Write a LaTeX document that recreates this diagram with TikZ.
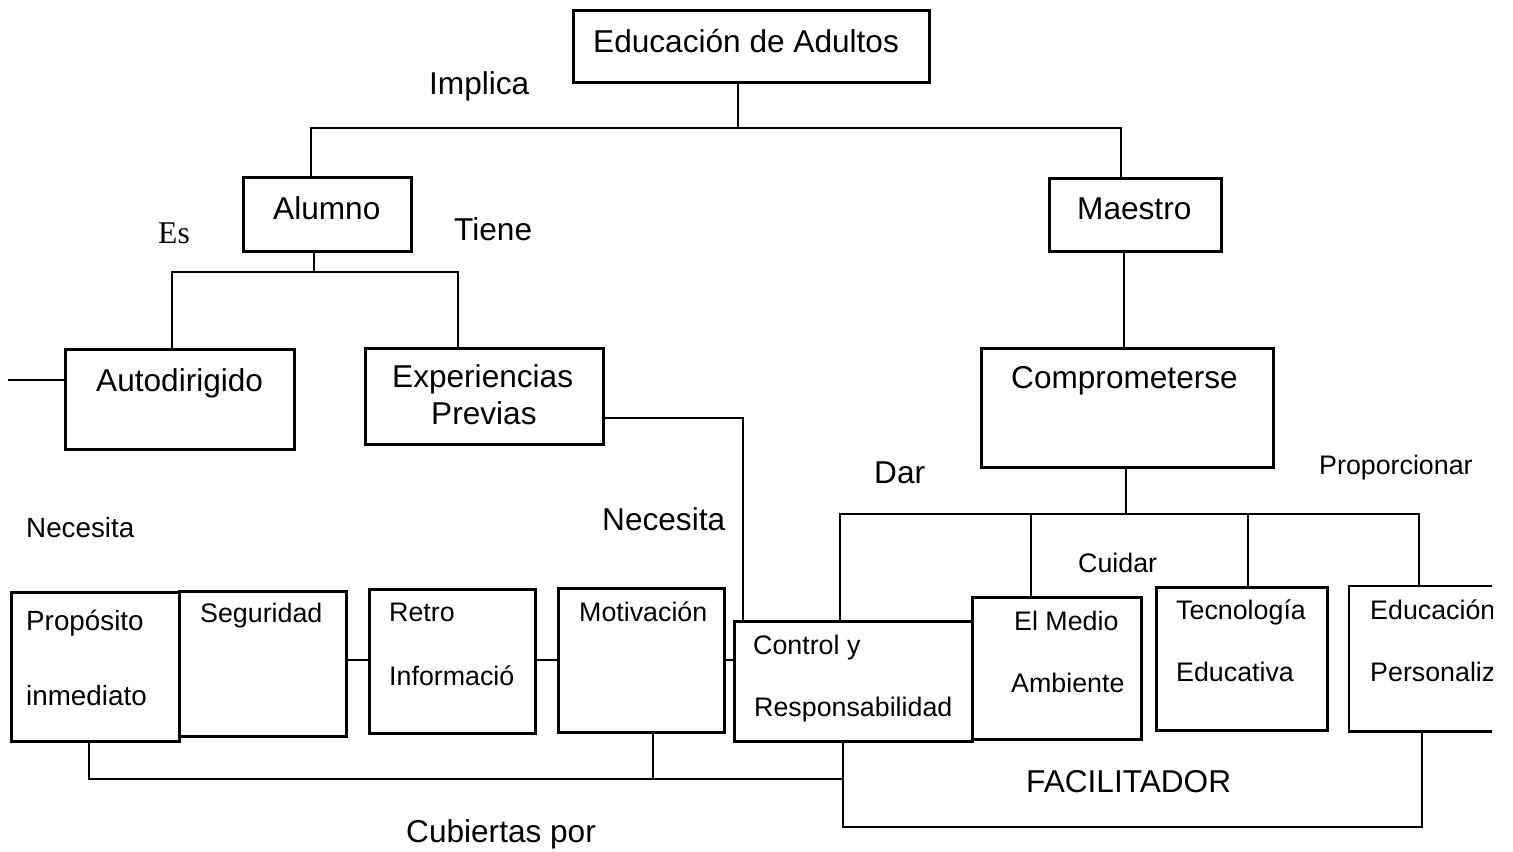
\documentclass[tikz,border=0pt]{standalone}
\usepackage{fontspec}
\setmainfont{Liberation Sans}
\newfontfamily\serifes{Liberation Serif}
\newcommand\bx[5]{\node[box,minimum width=#4*0.5pt,minimum height=#5*0.5pt] (#1) at (#2,#3) {};}
\begin{document}
\begin{tikzpicture}[x=0.5pt,y=-0.5pt,line width=1.2pt,
  box/.style={draw,rectangle,inner sep=0pt,anchor=north west,line width=1.3pt},
  big/.style={inner sep=0pt,anchor=base west,font=\fontsize{15.8}{19}\selectfont},
  mid/.style={inner sep=0pt,anchor=base west,font=\fontsize{13.9}{17}\selectfont},
  small/.style={inner sep=0pt,anchor=base west,font=\fontsize{13.4}{16}\selectfont}]
\useasboundingbox (0,0) rectangle (1513,851);
\begin{scope}
\clip (0,0) rectangle (1492,851);
% boxes
\bx{top}{572}{9}{356}{72}
\bx{alumno}{242}{176}{168}{74}
\bx{maestro}{1048}{177}{172}{73}
\bx{auto}{64}{348}{229}{100}
\bx{exp}{364}{347}{238}{96}
\bx{comp}{980}{347}{292}{119}
\bx{prop}{10}{591}{168}{149}
\bx{seg}{178}{590}{167}{145}
\bx{retro}{368}{588}{166}{144}
\bx{mot}{557}{587}{166}{144}
\bx{ctrl}{733}{620}{238}{120}
\bx{medio}{971}{596}{169}{142}
\bx{tec}{1155}{586}{171}{143}
\node[box,draw=none,minimum width=200*0.5pt,minimum height=143*0.5pt] (edu) at (1349,586) {};
\coordinate (cut) at (1492,0);
\draw[line width=1.3pt] (edu.north west -| cut) -- (edu.north west) -- (edu.south west) -- (edu.south west -| cut);
% texts
\node[big] (tTop) at (592,52) {Educación de Adultos};
\node[big] (lImp) at (428,94) {Implica};
\node[big] (tAl) at (272,219) {Alumno};
\node[inner sep=0pt,anchor=base west,font=\serifes\fontsize{15.8}{19}\selectfont] (lEs) at (157,243) {Es};
\node[big] (lTiene) at (453,240) {Tiene};
\node[big] (tMa) at (1076,219) {Maestro};
\node[big] (tAuto) at (95,391) {Autodirigido};
\node[big] (tExp1) at (391,387) {Experiencias};
\node[big] (tExp2) at (430,424) {Previas};
\node[big] (tComp) at (1010,388) {Comprometerse};
\node[big] (lDar) at (873,483) {Dar};
\node[small] (lProp) at (1318,474) {Proporcionar};
\node[mid] (lNec1) at (25,537) {Necesita};
\node[big] (lNec2) at (601,530) {Necesita};
\node[small] (lCuidar) at (1077,572) {Cuidar};
\node[mid] (tProp1) at (25,630) {Propósito};
\node[mid] (tProp2) at (25,705) {inmediato};
\node[small] (tSeg) at (199,622) {Seguridad};
\node[small] (tRet1) at (388,621) {Retro};
\node[small] (tRet2) at (388,685) {Informació};
\node[small] (tMot) at (578,621) {Motivación};
\node[small] (tCtl1) at (752,654) {Control y};
\node[small] (tCtl2) at (753,716) {Responsabilidad};
\node[small] (tMed1) at (1013,630) {El Medio};
\node[small] (tMed2) at (1010,692) {Ambiente};
\node[small] (tTec1) at (1175,619) {Tecnología};
\node[small] (tTec2) at (1175,681) {Educativa};
\node[small] (tEdu1) at (1369,619) {Educación};
\node[small] (tEdu2) at (1369,681) {Personaliz};
\node[big] (tFac) at (1025,792) {FACILITADOR};
\node[big] (lCub) at (405,842) {Cubiertas por};
% connectors
\coordinate (jt) at (738,128);
\coordinate (bL) at (311,128);
\coordinate (bR) at (1121,128);
\draw (top.south -| jt) -- (jt);
\draw (alumno.north -| bL) -- (bL) -- (bR) -- (maestro.north -| bR);
\coordinate (ja) at (314,272);
\coordinate (aL) at (172,272);
\coordinate (aR) at (458,272);
\draw (alumno.south -| ja) -- (ja);
\draw (auto.north -| aL) -- (aL) -- (aR) -- (exp.north -| aR);
\coordinate (af) at (8,380);
\draw (af) -- (auto.west |- af);
\coordinate (je) at (743,418);
\draw (exp.east |- je) -- (je) -- (ctrl.north -| je);
\coordinate (jm) at (1124,300);
\draw (maestro.south -| jm) -- (comp.north -| jm);
\coordinate (jc) at (1126,514);
\coordinate (cL) at (840,514);
\coordinate (cR) at (1419,514);
\coordinate (c2) at (1031,514);
\coordinate (c3) at (1248,514);
\draw (comp.south -| jc) -- (jc);
\draw (ctrl.north -| cL) -- (cL) -- (cR) -- (edu.north -| cR);
\draw (c2) -- (medio.north -| c2);
\draw (c3) -- (tec.north -| c3);
\coordinate (hy) at (0,660);
\draw (seg.east |- hy) -- (retro.west |- hy);
\draw (retro.east |- hy) -- (mot.west |- hy);
\draw (mot.east |- hy) -- (ctrl.west |- hy);
\coordinate (pb) at (89,779);
\coordinate (mb) at (653,779);
\coordinate (fb) at (843,779);
\coordinate (fc) at (843,827);
\coordinate (fd) at (1422,827);
\draw (prop.south -| pb) -- (pb) -- (fb);
\draw (mot.south -| mb) -- (mb);
\draw (ctrl.south -| fb) -- (fc) -- (fd) -- (edu.south -| fd);
\end{scope}
\end{tikzpicture}
\end{document}
